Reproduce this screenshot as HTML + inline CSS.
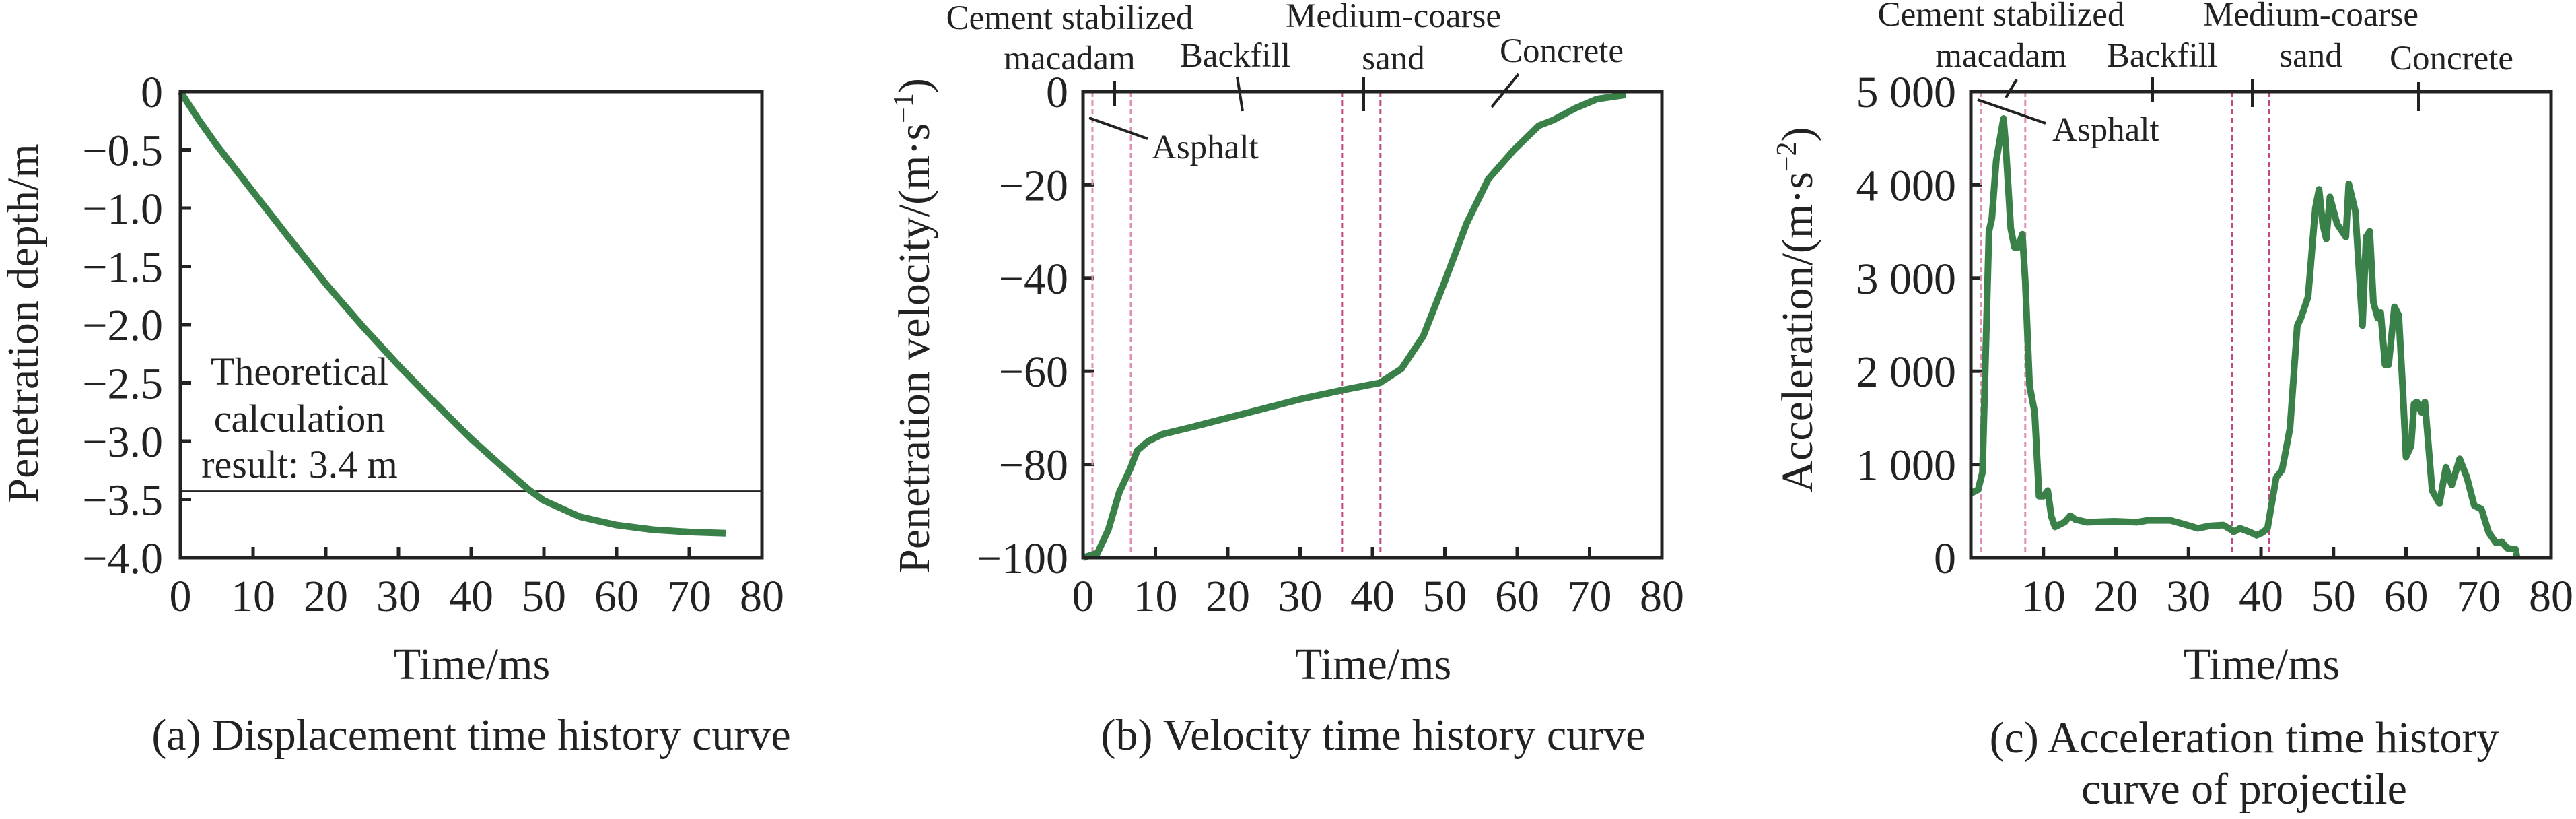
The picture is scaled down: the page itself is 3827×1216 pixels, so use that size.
<!DOCTYPE html>
<html><head><meta charset="utf-8"><style>
html,body{margin:0;padding:0;background:#fff;}
svg{display:block;font-family:"Liberation Serif",serif;fill:#222;}
</style></head><body>
<svg id="fig" width="3827" height="1216" viewBox="0 0 3827 1216" xmlns="http://www.w3.org/2000/svg">
<g id="pa"></g>
<g id="pb"></g>
<g id="pc"></g>
</svg>
<script>
const dispT = [0,2.5,5,10,15,20,25,30,35,40,45,48,50,55,60,65,70,75];
const dispV = [0,-0.24,-0.46,-0.86,-1.26,-1.65,-2.01,-2.35,-2.67,-2.98,-3.26,-3.42,-3.51,-3.65,-3.72,-3.76,-3.78,-3.79];
const dispYTicks = ["0","−0.5","−1.0","−1.5","−2.0","−2.5","−3.0","−3.5","−4.0"];
const theoryValue = -3.43;

const velT = [0,2,3.5,5,6.5,7.5,9,11,15,20,25,30,36,41,44,47,50,53,56,59.5,63,65,68,71,75];
const velV = [-100,-99,-94,-86,-81,-77,-75,-73.5,-72,-70,-68,-66,-64,-62.5,-59.5,-52.5,-40.7,-28.3,-18.8,-12.6,-7.3,-6.1,-3.6,-1.6,-0.7];
const velYTicks = ["0","−20","−40","−60","−80","−100"];

const accT = [0,1.0,1.6,2.5,2.9,3.5,4.5,4.8,5.5,6.0,6.5,7.1,7.5,8.1,8.8,9.4,10.0,10.6,11.1,11.6,12.1,12.9,13.7,14.4,16.0,19.8,22.9,24.4,27.5,29.8,31.3,32.9,34.8,36.3,37.1,38.6,39.4,40.2,40.9,42.1,42.9,43.2,44.0,45.0,45.5,46.5,47.5,48.0,48.5,49.0,49.5,50.5,51.7,52.1,53.0,54.0,54.5,55.0,55.5,56.1,56.5,57.1,57.6,58.4,59.0,59.6,60.0,60.7,61.1,61.5,62.1,62.6,63.6,64.6,65.5,66.3,67.4,68.4,69.4,70.4,71.4,72.4,73.2,74.0,75.1,75.3];
const accV = [690,730,915,3500,3640,4260,4710,4430,3530,3330,3330,3470,2970,1840,1560,660,660,720,440,330,350,380,450,410,380,390,380,400,400,350,315,340,350,280,315,270,240,270,315,860,940,1060,1390,2490,2570,2800,3750,3950,3580,3420,3870,3580,3440,4010,3720,2490,3440,3500,2740,2570,2630,2070,2070,2690,2600,1730,1080,1200,1650,1670,1560,1670,720,580,970,780,1060,860,560,520,270,160,170,100,90,0];
const accYTicks = ["5 000","4 000","3 000","2 000","1 000","0"];

const layerB = [1.3,6.6,35.8,41.1];
const layerC = [1.4,7.5,36.0,41.1];
const xTickLabels = ["0","10","20","30","40","50","60","70","80"];

const NS="http://www.w3.org/2000/svg";
function mk(parent,tag,attrs,text){const e=document.createElementNS(NS,tag);for(const k in attrs)e.setAttribute(k,attrs[k]);if(text!==undefined)e.textContent=text;parent.appendChild(e);return e;}
function axes(g,L,R,T,B,ymin,ymax,yLabels,xStart,yRightEdge){
  const sx=t=>L+(t/80)*(R-L);
  const sy=v=>T+(ymax-v)/(ymax-ymin)*(B-T);
  const n=yLabels.length;
  for(let i=0;i<n;i++){
    const v=ymax-(ymax-ymin)*i/(n-1);
    const y=sy(v);
    if(i>0&&i<n-1){const tk=mk(g,'line',{x1:L,x2:L+16,y1:y,y2:y,stroke:'#222','stroke-width':5});
      
      }
    const lb=mk(g,'text',{x:yRightEdge,y:y+23,'text-anchor':'end','font-size':66},yLabels[i]);
    
    
  }
  for(let i=xStart;i<xTickLabels.length;i++){
    const t=i*10,x=sx(t);
    if(i>0&&i<8){const tk=mk(g,'line',{x1:x,x2:x,y1:B,y2:B-16,stroke:'#222','stroke-width':5});
      
      }
    const lb=mk(g,'text',{x:x,y:907,'text-anchor':'middle','font-size':66},xTickLabels[i]);
    
    
  }
  return {sx,sy};
}
function frame(g,L,R,T,B){const r=mk(g,'rect',{x:L,y:T,width:R-L,height:B-T,fill:'none',stroke:'#222','stroke-width':5});
  
  }
function curve(g,sx,sy,ts,vs){
  let d='';for(let i=0;i<ts.length;i++)d+=(i?'L':'M')+sx(ts[i]).toFixed(1)+','+sy(vs[i]).toFixed(1);
  const p=mk(g,'path',{d:d,fill:'none',stroke:'#3a8049','stroke-width':10,'stroke-linejoin':'round'});
  
  
}
function txt(g,x,y,s,fs,anchor,name){const t=mk(g,'text',{x:x,y:y,'font-size':fs,'text-anchor':anchor||'middle'},s);
  
  return t;}
function ln(g,x1,y1,x2,y2,w,name){const l=mk(g,'line',{x1,y1,x2,y2,stroke:'#222','stroke-width':w||4});
  
  }
function ylabel(g,x,y,content,name){const t=mk(g,'text',{transform:`translate(${x},${y}) rotate(-90)`,'text-anchor':'middle','font-size':66});
  t.innerHTML=content;
  
  }
function dashes(g,sx,T,B,arr){arr.forEach((t,i)=>{const l=mk(g,'line',{x1:sx(t),x2:sx(t),y1:T,y2:B,stroke:i<2?'#e090b8':'#c04880','stroke-width':3,'stroke-dasharray':'8,5'});
  
  });}

// Panel A
{const g=document.getElementById('pa');const L=268,R=1132,T=136,B=828;
 const {sx,sy}=axes(g,L,R,T,B,-4,0,dispYTicks,0,242);
 const y=sy(theoryValue);
 ln(g,L,y,R,y,2.5,'theoretical-line');
 curve(g,sx,sy,dispT,dispV);frame(g,L,R,T,B);
 txt(g,445,571,'Theoretical',58,'middle','annotation-line1');
 txt(g,445,641,'calculation',58,'middle','annotation-line2');
 txt(g,445,709,'result: 3.4 m',58,'middle','annotation-line3');
 ylabel(g,56,480,'Penetration depth/m','y-axis-title');
 txt(g,701,1008,'Time/ms',66,'middle','x-axis-title');
 txt(g,700,1113,'(a) Displacement time history curve',66,'middle','caption');}

// Panel B
{const g=document.getElementById('pb');const L=1609,R=2469,T=136,B=828;
 const {sx,sy}=axes(g,L,R,T,B,-100,0,velYTicks,0,1587);
 dashes(g,sx,T,B,layerB);
 curve(g,sx,sy,velT,velV);frame(g,L,R,T,B);
 ln(g,1656,121,1656,157,4,'layer-tick');ln(g,2026,114,2026,165,4,'layer-tick');
 ln(g,1618,175,1705,206,4,'asphalt-leader');ln(g,1838,114,1846,165,4,'backfill-leader');ln(g,2256,110,2216,159,4,'concrete-leader');
 txt(g,1589,43,'Cement stabilized',51,'middle','layer-label');txt(g,1589,103,'macadam',51,'middle','layer-label');
 txt(g,1835,99,'Backfill',51,'middle','layer-label');
 txt(g,2070,40,'Medium-coarse',51,'middle','layer-label');txt(g,2070,103,'sand',51,'middle','layer-label');
 txt(g,2320,92,'Concrete',51,'middle','layer-label');
 txt(g,1711,235,'Asphalt',51,'start','layer-label');
 ylabel(g,1380,484,'Penetration velocity/(m·s<tspan dy="-24" font-size="42">−1</tspan><tspan dy="24">)</tspan>','y-axis-title');
 txt(g,2040,1008,'Time/ms',66,'middle','x-axis-title');
 txt(g,2040,1113,'(b) Velocity time history curve',66,'middle','caption');}

// Panel C
{const g=document.getElementById('pc');const L=2928,R=3790,T=136,B=828;
 const {sx,sy}=axes(g,L,R,T,B,0,5000,accYTicks,1,2906);
 dashes(g,sx,T,B,layerC);
 curve(g,sx,sy,accT,accV);frame(g,L,R,T,B);
 ln(g,3198,114,3198,152,4,'layer-tick');ln(g,3346,118,3346,159,4,'layer-tick');ln(g,3593,122,3593,165,4,'layer-tick');
 ln(g,2938,148,3039,183,4,'asphalt-leader');ln(g,2996,118,2980,145,4,'macadam-leader');
 txt(g,2973,38,'Cement stabilized',51,'middle','layer-label');txt(g,2973,99,'macadam',51,'middle','layer-label');
 txt(g,3212,99,'Backfill',51,'middle','layer-label');
 txt(g,3433,38,'Medium-coarse',51,'middle','layer-label');txt(g,3433,99,'sand',51,'middle','layer-label');
 txt(g,3642,103,'Concrete',51,'middle','layer-label');
 txt(g,3049,209,'Asphalt',51,'start','layer-label');
 ylabel(g,2692,460,'Acceleration/(m·s<tspan dy="-24" font-size="42">−2</tspan><tspan dy="24">)</tspan>','y-axis-title');
 txt(g,3360,1008,'Time/ms',66,'middle','x-axis-title');
 txt(g,3334,1117,'(c) Acceleration time history',66,'middle','caption');
 txt(g,3334,1193,'curve of projectile',66,'middle','caption');}
</script>
</body></html>
